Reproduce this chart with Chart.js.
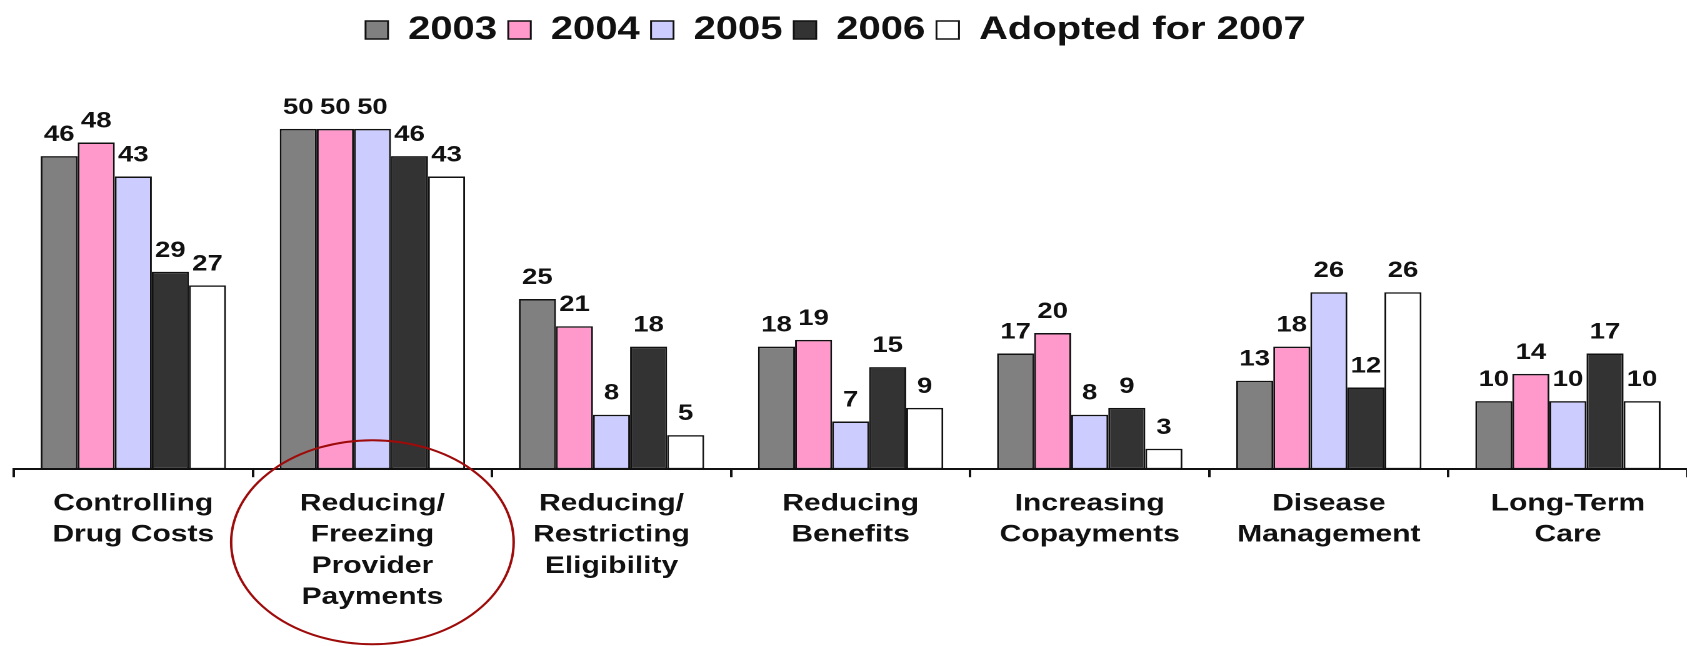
<!DOCTYPE html>
<html>
<head>
<meta charset="utf-8">
<script src="https://cdn.jsdelivr.net/npm/chart.js@4.4.1/dist/chart.umd.min.js"></script>
<style>
  html, body { margin: 0; padding: 0; background: #fff; overflow: hidden; }
  #wrap { width: 1350px; height: 646px; transform: scaleX(1.25); transform-origin: 0 0; }
</style>
</head>
<body>
<div id="wrap"><canvas id="budget-chart" width="1350" height="646"></canvas></div>
<script>
const categories = [
    ['Controlling', 'Drug Costs'],
    ['Reducing/', 'Freezing', 'Provider', 'Payments'],
    ['Reducing/', 'Restricting', 'Eligibility'],
    ['Reducing', 'Benefits'],
    ['Increasing', 'Copayments'],
    ['Disease', 'Management'],
    ['Long-Term', 'Care']
]
const years = ['2003', '2004', '2005', '2006', 'Adopted for 2007']
const values2003 = [46, 50, 25, 18, 17, 13, 10]
const values2004 = [48, 50, 21, 19, 20, 18, 14]
const values2005 = [43, 50, 8, 7, 8, 26, 10]
const values2006 = [29, 46, 18, 15, 9, 12, 17]
const values2007 = [27, 43, 5, 9, 3, 26, 10]
const colors = ['#808080', '#FF99CC', '#CCCCFF', '#333333', '#FFFFFF']

const seriesValues = [values2003, values2004, values2005, values2006, values2007]

// numbers above each bar
const valueLabels = {
    id: 'valueLabels',
    afterDatasetsDraw(chart) {
        const ctx = chart.ctx
        ctx.save()
        ctx.font = 'bold 22px "Liberation Sans", Arial, sans-serif'
        ctx.fillStyle = '#111'
        ctx.textAlign = 'center'
        ctx.textBaseline = 'alphabetic'
        chart.data.datasets.forEach((ds, i) => {
            chart.getDatasetMeta(i).data.forEach((bar, j) => {
                ctx.fillText(ds.data[j], bar.x, bar.y - 15)
            })
        })
        ctx.restore()
    }
}

// legend sits a little left of centre in the original
const legendNudge = {
    id: 'legendNudge',
    afterLayout(chart) {
        chart.legend.left -= 12
        chart.legend.right -= 12
    }
}

// red ring drawn round the second category label
const ring = {
    id: 'ring',
    afterDraw(chart) {
        const ctx = chart.ctx
        const x = chart.scales.x.getPixelForValue(1)
        const y = chart.chartArea.bottom + 73
        ctx.save()
        ctx.strokeStyle = '#9E0B0B'
        ctx.lineWidth = 2
        ctx.beginPath()
        ctx.ellipse(x, y, 113, 102, 0, 0, Math.PI * 2)
        ctx.stroke()
        ctx.restore()
    }
}

const chart = new Chart(document.querySelector('#budget-chart'), {
    type: 'bar',
    data: {
        labels: categories,
        datasets: years.map((year, i) => ({
            label: year,
            data: seriesValues[i],
            backgroundColor: colors[i],
            borderColor: '#111',
            borderWidth: 1.5,
            borderSkipped: false,
            categoryPercentage: 0.775,
            barPercentage: 1.0
        }))
    },
    options: {
        responsive: false,
        animation: false,
        devicePixelRatio: 2,
        layout: { padding: { left: 11, right: 0, top: 5, bottom: 22 } },
        plugins: {
            legend: {
                position: 'top',
                labels: {
                    color: '#111',
                    font: { family: '"Liberation Sans", Arial, sans-serif', size: 32, weight: 'bold' },
                    boxWidth: 18,
                    boxHeight: 18,
                    padding: 9
                }
            },
            tooltip: { enabled: false }
        },
        scales: {
            x: {
                grid: {
                    offset: true,
                    drawOnChartArea: false,
                    drawTicks: true,
                    tickLength: 8,
                    color: '#111',
                    lineWidth: 2
                },
                border: { display: true, color: '#111', width: 2 },
                ticks: {
                    color: '#111',
                    padding: 11,
                    maxRotation: 0,
                    autoSkip: false,
                    font: { family: '"Liberation Sans", Arial, sans-serif', size: 24, weight: 'bold', lineHeight: 1.3 }
                }
            },
            y: {
                display: false,
                min: 0,
                max: 60.7
            }
        }
    },
    plugins: [valueLabels, legendNudge, ring]
})
</script>
</body>
</html>
